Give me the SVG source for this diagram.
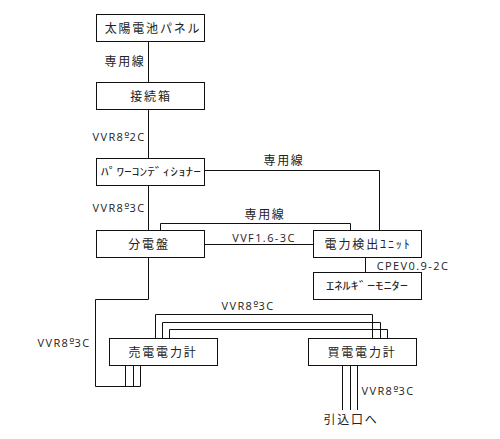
<svg xmlns="http://www.w3.org/2000/svg" width="500" height="439" viewBox="0 0 500 439">
<style>
rect{fill:#fff;stroke:#111;stroke-width:1}
#connectors path{fill:none;stroke:#111;stroke-width:1}
text{font-family:"Noto Sans CJK JP","Noto Sans",sans-serif;fill:#222;text-anchor:middle}
.n{font-size:12px;letter-spacing:1.8px}
.l{font-family:"Open Sans","Liberation Sans",sans-serif;font-size:11px;letter-spacing:1.4px}
.k{font-size:12px;letter-spacing:1.7px}
.o{font-family:"DejaVu Sans",sans-serif;font-size:11px;letter-spacing:0}
</style>
<rect width="500" height="439" style="fill:#fff;stroke:none"/>
<g id="connectors">
<path d="M148.5 41V82.5M148.5 109.5V158.5M148.5 185.5V230.5M148.5 257.5V299.5H95.5V386.5H140.5M125.5 365.5V386.5M133.5 365.5V386.5M140.5 365.5V386.5"/>
<path d="M204.5 170.5H379.5V230.5M160.5 230.5V223.5H350.5V230.5M204.5 244.5H313.5M365.5 257.5V272.5"/>
<path d="M155.5 338.5V314.5H372.5V338.5M162.5 338.5V322.5H380.5V338.5M169.5 338.5V329.5H387.5V338.5"/>
<path d="M342.5 365.5V410M350.5 365.5V410M357.5 365.5V410"/>
</g>
<g id="n1"><rect x="96.5" y="14.5" width="108" height="27"/><text class="n" x="153" y="33">太陽電池パネル</text></g>
<g id="n2"><rect x="96.5" y="82.5" width="108" height="27"/><text class="n" x="151" y="101">接続箱</text></g>
<g id="n3"><rect x="96.5" y="158.5" width="108" height="27"/><text x="151" y="176" textLength="100" lengthAdjust="spacingAndGlyphs" style="font-size:11px">ﾊﾟﾜｰｺﾝﾃﾞｨｼｮﾅｰ</text></g>
<g id="n4"><rect x="96.5" y="230.5" width="108" height="27"/><text class="n" x="149" y="249">分電盤</text></g>
<g id="n5"><rect x="313.5" y="230.5" width="108" height="27"/><text class="n" x="368" y="249" textLength="87" lengthAdjust="spacing">電力検出ﾕﾆｯﾄ</text></g>
<g id="n6"><rect x="313.5" y="272.5" width="108" height="27"/><text x="367" y="290" textLength="82" lengthAdjust="spacingAndGlyphs" style="font-size:11px">ｴﾈﾙｷﾞｰﾓﾆﾀｰ</text></g>
<g id="n7"><rect x="109.5" y="338.5" width="108" height="27"/><text class="n" x="163" y="357">売電電力計</text></g>
<g id="n8"><rect x="308.5" y="338.5" width="108" height="27"/><text class="n" x="362" y="357">買電電力計</text></g>
<g id="labels">
<text class="k" x="125" y="66">専用線</text>
<text class="l" x="119" y="141">VVR8<tspan class="o" dy="-1">º</tspan><tspan dy="1">2C</tspan></text>
<text class="k" x="284" y="165">専用線</text>
<text class="l" x="119" y="212">VVR8<tspan class="o" dy="-1">º</tspan><tspan dy="1">3C</tspan></text>
<text class="k" x="265" y="219">専用線</text>
<text class="l" x="264" y="242">VVF1.6-3C</text>
<text class="l" x="413" y="270">CPEV0.9-2C</text>
<text class="l" x="248" y="310">VVR8<tspan class="o" dy="-1">º</tspan><tspan dy="1">3C</tspan></text>
<text class="l" x="64" y="347">VVR8<tspan class="o" dy="-1">º</tspan><tspan dy="1">3C</tspan></text>
<text class="l" x="388" y="395">VVR8<tspan class="o" dy="-1">º</tspan><tspan dy="1">3C</tspan></text>
<text class="k" x="351" y="424">引込口へ</text>
</g>
</svg>
